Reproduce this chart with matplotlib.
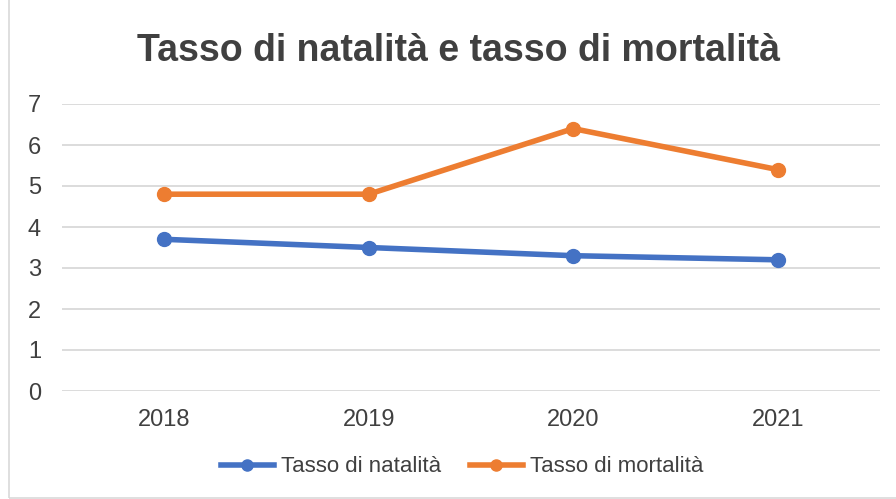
import matplotlib
matplotlib.use("Agg")
import matplotlib.pyplot as plt
from matplotlib.patches import Rectangle

years = ["2018", "2019", "2020", "2021"]
natalita = [3.7, 3.5, 3.3, 3.2]
mortalita = [4.8, 4.8, 6.4, 5.4]
y_ticks = [0, 1, 2, 3, 4, 5, 6, 7]

plt.rcParams['font.family'] = ['Liberation Sans', 'DejaVu Sans']
text_color = "#404040"

fig = plt.figure(figsize=(8.96, 4.99), dpi=100)
fig.patches.append(Rectangle((9/896, 1/499), 1.0, 1.0, transform=fig.transFigure,
                             fill=False, edgecolor="#D9D9D9", linewidth=1.2))
ax = fig.add_axes([62/896, 1-391/499, (880-62)/896, (391-104)/499])

x = list(range(len(years)))
ax.plot(x, natalita, color="#4472C4", lw=4, marker="o", markersize=10, label="Tasso di natalità", zorder=3)
ax.plot(x, mortalita, color="#ED7D31", lw=4, marker="o", markersize=10, label="Tasso di mortalità", zorder=3)

ax.set_xlim(-0.5, len(years) - 0.5)
ax.set_ylim(0, 7)
ax.set_yticks(y_ticks)
ax.set_xticks(x)
ax.set_xticklabels(years)
ax.grid(axis="y", color="#D9D9D9", linewidth=1.3)
ax.set_axisbelow(True)
for s in ax.spines.values():
    s.set_visible(False)
ax.tick_params(length=0, labelsize=17, colors=text_color)
ax.tick_params(axis="x", pad=13)
ax.tick_params(axis="y", pad=24.5)
for lab in ax.get_yticklabels():
    lab.set_horizontalalignment("left")

fig.text(458/896, 1-51/499, "Tasso di natalità e tasso di mortalità", ha="center", va="center",
         fontsize=27, fontweight="bold", color=text_color)

leg = fig.legend(loc="center", bbox_to_anchor=(462/896, 1-467/499), ncol=2, frameon=False,
                 fontsize=16, handlelength=2.4, handletextpad=0.3, columnspacing=1.3,
                 labelcolor=text_color)
for h in leg.legend_handles:
    h.set_markersize(8)

fig.savefig("out.png", dpi=100)
